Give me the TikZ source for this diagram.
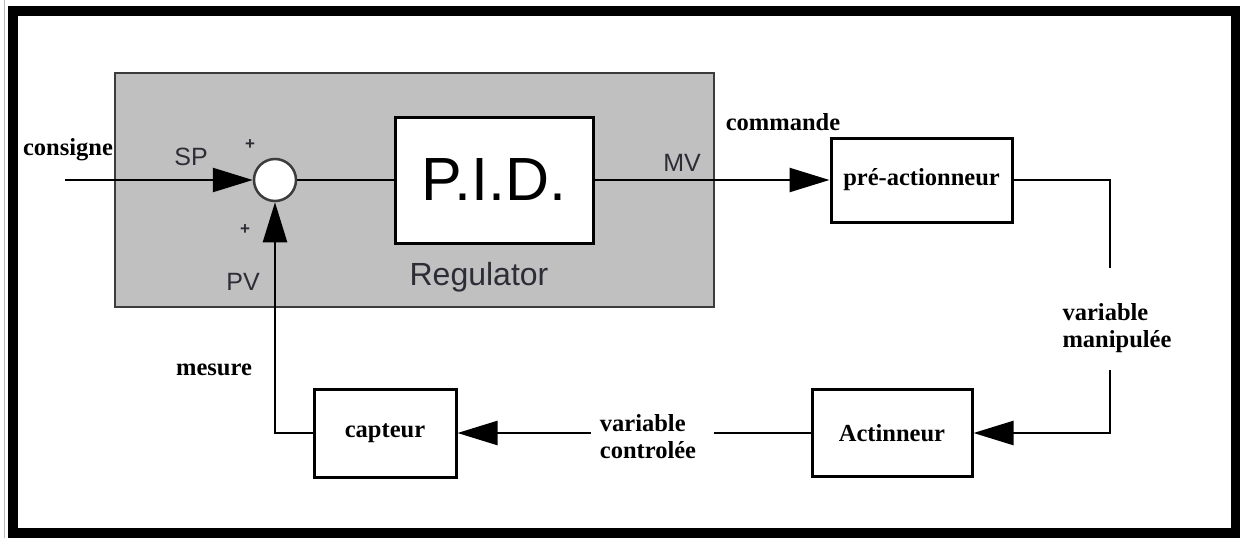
\documentclass[tikz,border=0pt]{standalone}
\usepackage{fontspec}
\setmainfont{Liberation Serif}
\setsansfont{Liberation Sans}
\usepackage{tikz}
\usetikzlibrary{arrows.meta}
\definecolor{grisReg}{RGB}{192,192,192}
\definecolor{grisTrait}{RGB}{60,60,60}
\definecolor{texteSans}{RGB}{45,45,55}
\tikzset{
  bloc/.style={rectangle, draw=black, line width=3pt, fill=white,
               align=center, font=\fontsize{24.5}{28}\selectfont\bfseries},
  regul/.style={draw=grisTrait, line width=2.5pt, fill=grisReg},
  somme/.style={circle, draw=grisTrait, line width=2.5pt, fill=white,
                minimum size=42pt, inner sep=0pt},
  lbl/.style={align=left, inner sep=0pt, font=\fontsize{24.5}{27}\selectfont\bfseries},
  lblsans/.style={inner sep=0pt, text=texteSans, font=\fontsize{25}{28}\sffamily},
  ligne/.style={line width=2.5pt, black},
  fleche/.style={line width=2.5pt, black, -{Triangle[length=40pt, width=24pt]}},
}
\begin{document}
\begin{tikzpicture}[x=1pt, y=-1pt]
  \useasboundingbox (0,0) rectangle (1240,538);
  % cadre
  \draw[gray!55, line width=1.5pt] (4.5,0) -- (4.5,538);
  \draw[line width=10pt] (12.5,10.5) rectangle (1235.5,533);
  % bloc regulateur
  \draw[regul] (115,73) rectangle (714,307);
  \node[font=\fontsize{32}{36}\sffamily, text=texteSans] (reg) at (479,277) {Regulator};
  \node[somme] (som) at (275,180) {};
  \node[bloc, minimum width=198pt, minimum height=126pt,
        font=\fontsize{61}{63}\sffamily] (pid) at (494,180) {P.I.D.};
  % blocs exterieurs
  \node[bloc, minimum width=181pt, minimum height=84pt] (preact) at (921.5,180) {pré-actionneur};
  \node[bloc, minimum width=160pt, minimum height=87pt] (act) at (892,433) {Actinneur};
  \node[bloc, minimum width=142pt, minimum height=88pt] (capt) at (385,433) {capteur};
  % etiquettes
  \node[lbl] (consigne) at (68,150) {consigne};
  \node[lbl] (commande) at (783,122) {commande};
  \node[lbl] (mesure) at (214,370) {mesure};
  \node[lbl] (varman) at (1117,328) {variable\\manipulée};
  \node[lbl] (varctl) at (648,437) {variable\\controlée};
  \node[lblsans] (sp) at (191,157) {SP};
  \node[lblsans] (mv) at (682,163) {MV};
  \node[lblsans] (pv) at (243,282) {PV};
  \node[lblsans, font=\fontsize{17}{18}\sffamily\bfseries] (plushaut) at (250,145) {+};
  \node[lblsans, font=\fontsize{17}{18}\sffamily\bfseries] (plusbas) at (245,230) {+};
  % liaisons
  \coordinate (entree) at (65,180);
  \coordinate (m1) at (1110,268);
  \coordinate (m2) at (1110,370);
  \coordinate (c1) at (714,433);
  \coordinate (c2) at (591,433);
  \draw[fleche] (entree) -- (som.west);
  \draw[ligne] (som.east) -- (pid.west);
  \draw[fleche] (pid.east) -- (preact.west);
  \draw[ligne] (preact.east) -| (m1);
  \draw[fleche] (m2) |- (act.east);
  \draw[ligne] (act.west) -- (c1);
  \draw[fleche] (c2) -- (capt.east);
  \draw[fleche] (capt.west) -| (som.south);
\end{tikzpicture}
\end{document}
